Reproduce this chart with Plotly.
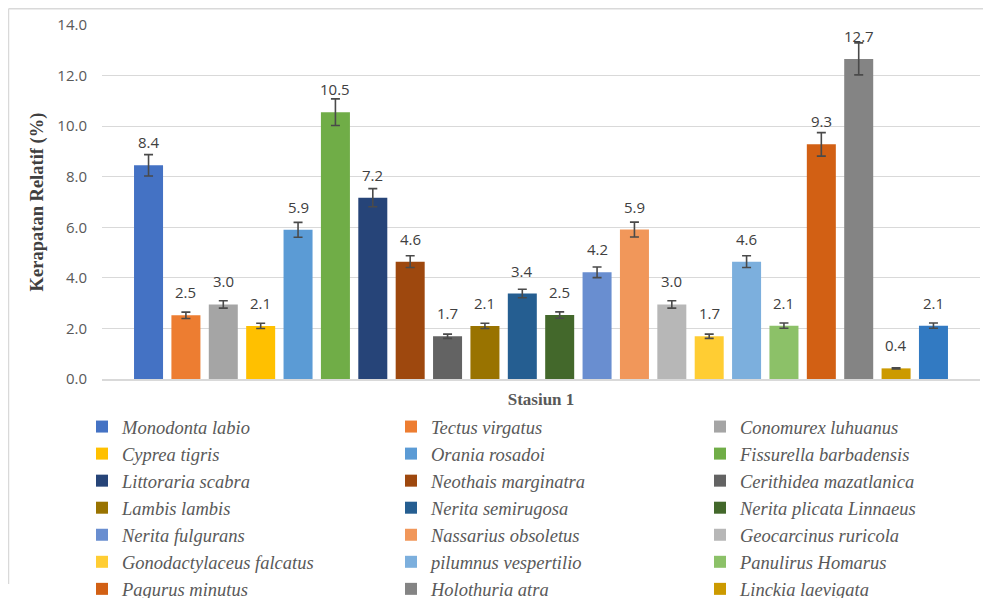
import plotly.graph_objects as go

species = [
    "Monodonta labio", "Tectus virgatus", "Conomurex luhuanus",
    "Cyprea tigris", "Orania rosadoi", "Fissurella barbadensis",
    "Littoraria scabra", "Neothais marginatra", "Cerithidea mazatlanica",
    "Lambis lambis", "Nerita semirugosa", "Nerita plicata Linnaeus",
    "Nerita fulgurans", "Nassarius obsoletus", "Geocarcinus ruricola",
    "Gonodactylaceus falcatus", "pilumnus vespertilio", "Panulirus Homarus",
    "Pagurus minutus", "Holothuria atra", "Linckia laevigata",
    "Acanthaster planci",
]
values = [8.45, 2.52, 2.95, 2.10, 5.90, 10.55, 7.17, 4.64, 1.69, 2.10,
          3.38, 2.53, 4.22, 5.91, 2.95, 1.69, 4.64, 2.11, 9.28, 12.66,
          0.42, 2.11]
labels = ["8.4", "2.5", "3.0", "2.1", "5.9", "10.5", "7.2", "4.6", "1.7",
          "2.1", "3.4", "2.5", "4.2", "5.9", "3.0", "1.7", "4.6", "2.1",
          "9.3", "12.7", "0.4", "2.1"]
colors = ["#4472C4", "#ED7D31", "#A5A5A5", "#FFC000", "#5B9BD5", "#70AD47",
          "#264478", "#9E480E", "#636363", "#997300", "#255E91", "#43682B",
          "#698ED0", "#F1975A", "#B7B7B7", "#FFCD33", "#7CAFDD", "#8CC168",
          "#D26014", "#848484", "#CC9A00", "#327AC2"]
y_ticks = [0, 2, 4, 6, 8, 10, 12, 14]
error_percent = 5

fig = go.Figure()
for i, (name, v, c) in enumerate(zip(species, values, colors)):
    fig.add_trace(go.Bar(
        x=[i], y=[v], name=name, width=0.776,
        marker=dict(color=c, line=dict(width=0)),
        error_y=dict(type="percent", value=error_percent, color="#4a4a4a",
                     thickness=1.6, width=4.5),
        hoverinfo="name+y",
    ))

annotations = []
for i, (v, t) in enumerate(zip(values, labels)):
    annotations.append(dict(
        x=i, y=v, xref="x", yref="y", text=t, showarrow=False,
        yanchor="bottom", yshift=11,
        font=dict(family="Open Sans", size=15, color="#404040"),
    ))

frame = dict(color="#d9d9d9", width=1.5)
# page body has an 8px margin: the figure is sized/offset to compensate
fig.update_layout(
    width=983, height=590,
    paper_bgcolor="white", plot_bgcolor="white",
    margin=dict(l=94, r=11, t=17, b=219, autoexpand=False),
    barmode="overlay",
    showlegend=True,
    legend=dict(
        orientation="h", x=-0.0228, xanchor="left", y=-0.082, yanchor="top",
        entrywidth=264, traceorder="normal",
        font=dict(family="Liberation Serif", size=18.5, color="#595959",
                  style="italic"),
        bgcolor="rgba(0,0,0,0)",
    ),
    annotations=annotations,
    shapes=[
        dict(type="line", xref="paper", yref="paper",
             x0=-0.1065, x1=-0.1065, y0=-0.579, y1=1.046, line=frame,
             layer="below"),
        dict(type="line", xref="paper", yref="paper",
             x0=-0.1065, x1=1.05, y0=1.046, y1=1.046, line=frame,
             layer="below"),
    ],
)
fig.update_xaxes(
    range=[-1.245, 22.245], showticklabels=False, showgrid=False,
    zeroline=False, showline=True, linecolor="#d9d9d9", linewidth=1.5,
    ticks="", fixedrange=True,
    title=dict(text="Stasiun 1", standoff=13,
               font=dict(family="Liberation Serif", size=17, color="#595959",
                         weight="bold")),
)
fig.update_yaxes(
    range=[0, 14], tickvals=y_ticks, tickformat=".1f",
    showgrid=True, gridcolor="#d9d9d9", gridwidth=1.3,
    zeroline=False, showline=False, ticks="", ticklabelstandoff=14,
    tickfont=dict(family="Open Sans", size=15, color="#595959"),
    title=dict(text="Kerapatan Relatif (%)", standoff=8,
               font=dict(family="Liberation Serif", size=18.5, color="#404040",
                         weight="bold")),
)

fig.write_html("out.html")
